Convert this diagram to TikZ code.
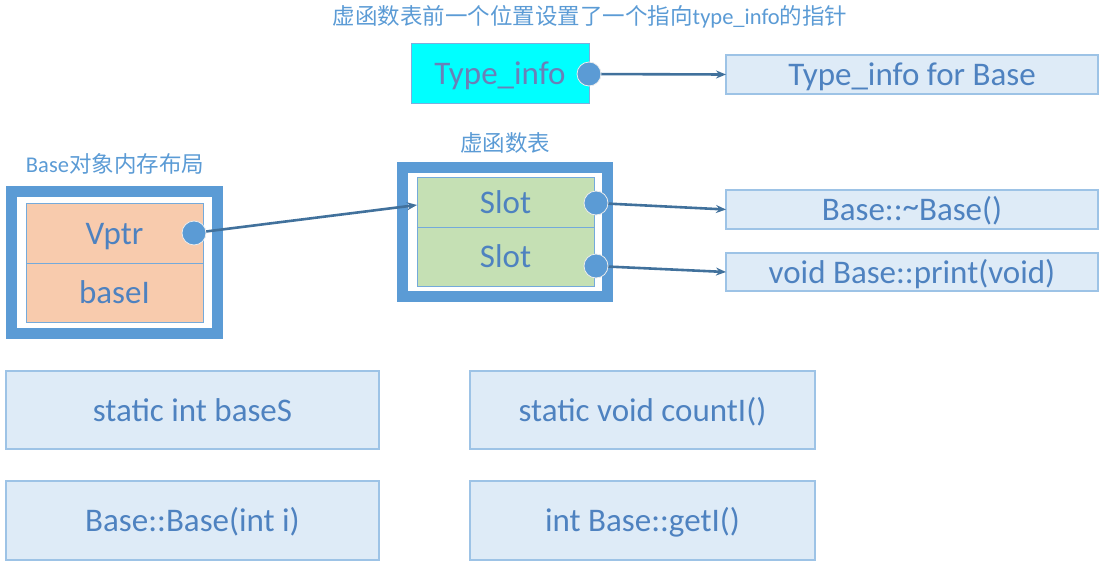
\documentclass[tikz,border=0pt]{standalone}
\usepackage{fontspec}
\setmainfont{Carlito}
\newfontfamily\cjk{Noto Sans CJK SC}
\usetikzlibrary{arrows.meta}
\definecolor{frameblue}{HTML}{5B9BD5}
\definecolor{txtblue}{HTML}{4E82C0}
\definecolor{boxfill}{HTML}{DEEBF7}
\definecolor{boxline}{HTML}{9DC3E6}
\definecolor{orangefill}{HTML}{F8CBAD}
\definecolor{greenfill}{HTML}{C5E0B4}
\definecolor{arrowblue}{HTML}{41719C}
\definecolor{cyanfill}{HTML}{00FFFF}
\definecolor{titxt}{HTML}{6A80B8}
\tikzset{
  x=1pt, y=-1pt,
  lbl/.style={font=\fontsize{33}{38}\selectfont, text=txtblue, inner sep=0pt, outer sep=0pt, text height=22pt, text depth=0pt},
  fbox/.style={lbl, draw=boxline, fill=boxfill, line width=1.2pt},
  cell/.style={lbl, draw=frameblue!85, line width=1pt},
  frm/.style={draw=frameblue, line width=11pt, inner sep=0pt, outer sep=0pt},
  ttl/.style={font=\fontsize{22.5}{26}\selectfont, text=frameblue, inner sep=0pt},
  dot/.style={circle, fill=frameblue, draw=white!85!gray, line width=0.8pt, minimum size=24pt, inner sep=0pt},
  arr/.style={draw=arrowblue, line width=2.6pt, -{Stealth[length=10pt,width=8pt]}},
}
\begin{document}
\begin{tikzpicture}
\useasboundingbox (0,0) rectangle (1111,571);
% titles
\node[ttl] (title) at (590,17) {{\cjk 虚函数表前一个位置设置了一个指向}type\_info{\cjk 的指针}};
\node[ttl] (vtlab) at (505,143) {\cjk 虚函数表};
\node[ttl] (oblab) at (115,164) {Base{\cjk 对象内存布局}};
% type info
\node[lbl, draw=frameblue!80, fill=cyanfill, line width=1pt, text=titxt, minimum width=178pt, minimum height=60pt] (ti) at (500,73) {Type\_info};
\node[fbox, minimum width=372pt, minimum height=39pt] (tib) at (912,74.5) {Type\_info for Base};
% frames
\node[frm, minimum width=205pt, minimum height=129pt] (vtf) at (505,232) {};
\node[frm, minimum width=206pt, minimum height=142pt] (obf) at (114.5,262.5) {};
% cells
\node[cell, fill=greenfill, minimum width=177pt, minimum height=50pt] (slot1) at (505.5,202) {Slot};
\node[cell, fill=greenfill, minimum width=177pt, minimum height=59pt] (slot2) at (505.5,256.5) {Slot};
\node[cell, fill=orangefill, minimum width=177pt, minimum height=60pt] (vptr) at (114.5,233) {Vptr};
\node[cell, fill=orangefill, minimum width=177pt, minimum height=59pt] (basei) at (114.5,292.5) {baseI};
% right boxes
\node[fbox, minimum width=372pt, minimum height=39pt] (b1) at (912,209.5) {Base::\raisebox{0.1em}{\char"007E}Base()};
\node[fbox, minimum width=372pt, minimum height=38pt] (b2) at (912,272) {void Base::print(void)};
% bottom boxes
\node[fbox, minimum width=373pt, minimum height=78pt] (s1) at (192.5,410) {static int baseS};
\node[fbox, minimum width=345pt, minimum height=78pt] (s2) at (642.5,410) {static void countI()};
\node[fbox, minimum width=373pt, minimum height=79pt] (s3) at (192.5,520.5) {Base::Base(int i)};
\node[fbox, minimum width=345pt, minimum height=79pt] (s4) at (642.5,520.5) {int Base::getI()};
% dots
\coordinate (c0) at (589,74);
\coordinate (cv) at (194,233);
\coordinate (cs1) at (596,203);
\coordinate (cs2) at (596,266);
\coordinate (e1) at (417,205);
% arrows
\draw[arr] (cv) -- (e1);
\draw[arr] (c0) -- (tib.west);
\draw[arr] (cs1) -- (b1.west);
\draw[arr] (cs2) -- (b2.west);
\node[dot] (d0) at (c0) {};
\node[dot] (dv) at (cv) {};
\node[dot] (ds1) at (cs1) {};
\node[dot] (ds2) at (cs2) {};
\end{tikzpicture}
\end{document}
